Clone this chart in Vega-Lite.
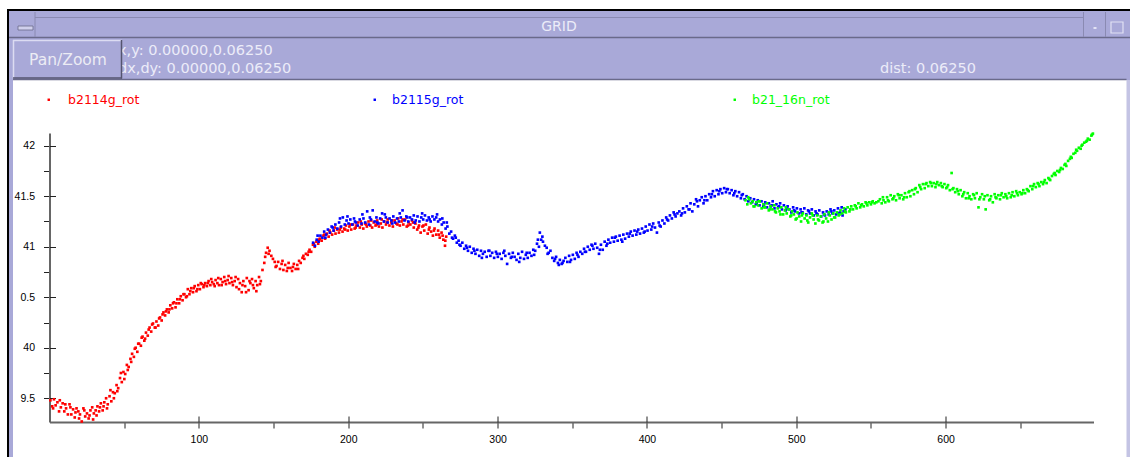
{
"$schema": "https://vega.github.io/schema/vega-lite/v6.json",
"width": 1044,
"height": 289,
"autosize": {"type": "none"},
"padding": {"left": 49.5, "top": 133, "right": 36.5, "bottom": 35},
"background": "white",
"config": {"view": {"stroke": null}, "font": "Liberation Sans", "legend": {"orient": "none", "direction": "horizontal", "title": null, "symbolType": "square", "symbolSize": 6, "symbolStrokeWidth": 0, "labelFont": "DejaVu Sans", "labelFontSize": 12.5, "labelLimit": 400, "padding": 0}},
"datasets": {
"red": [{"x":0.6,"y":39.48},{"x":1.8,"y":39.42},{"x":3.0,"y":39.49},{"x":4.1,"y":39.43},{"x":5.3,"y":39.46},{"x":6.4,"y":39.37},{"x":7.6,"y":39.41},{"x":8.8,"y":39.45},{"x":9.9,"y":39.37},{"x":11.1,"y":39.40},{"x":12.3,"y":39.34},{"x":13.4,"y":39.44},{"x":14.6,"y":39.34},{"x":15.8,"y":39.39},{"x":16.9,"y":39.31},{"x":18.1,"y":39.40},{"x":19.3,"y":39.37},{"x":20.4,"y":39.34},{"x":21.6,"y":39.27},{"x":22.7,"y":39.40},{"x":23.9,"y":39.32},{"x":25.1,"y":39.35},{"x":26.2,"y":39.30},{"x":27.4,"y":39.38},{"x":28.6,"y":39.41},{"x":29.7,"y":39.35},{"x":30.9,"y":39.38},{"x":32.1,"y":39.42},{"x":33.2,"y":39.37},{"x":34.4,"y":39.45},{"x":35.6,"y":39.38},{"x":36.7,"y":39.46},{"x":37.9,"y":39.50},{"x":39.0,"y":39.44},{"x":40.2,"y":39.52},{"x":41.4,"y":39.47},{"x":42.5,"y":39.56},{"x":43.7,"y":39.55},{"x":44.9,"y":39.63},{"x":46.0,"y":39.60},{"x":47.2,"y":39.70},{"x":48.4,"y":39.66},{"x":49.5,"y":39.76},{"x":50.7,"y":39.74},{"x":51.8,"y":39.83},{"x":53.0,"y":39.81},{"x":54.2,"y":39.89},{"x":55.3,"y":39.94},{"x":56.5,"y":39.91},{"x":57.7,"y":40.00},{"x":58.8,"y":39.96},{"x":60.0,"y":40.04},{"x":61.2,"y":40.02},{"x":62.3,"y":40.11},{"x":63.5,"y":40.07},{"x":64.6,"y":40.15},{"x":65.8,"y":40.12},{"x":67.0,"y":40.20},{"x":68.1,"y":40.16},{"x":69.3,"y":40.24},{"x":70.5,"y":40.20},{"x":71.6,"y":40.26},{"x":72.8,"y":40.22},{"x":74.0,"y":40.30},{"x":75.1,"y":40.27},{"x":76.3,"y":40.35},{"x":77.4,"y":40.32},{"x":78.6,"y":40.38},{"x":79.8,"y":40.35},{"x":80.9,"y":40.42},{"x":82.1,"y":40.39},{"x":83.3,"y":40.45},{"x":84.4,"y":40.40},{"x":85.6,"y":40.48},{"x":86.8,"y":40.44},{"x":87.9,"y":40.51},{"x":89.1,"y":40.47},{"x":90.3,"y":40.53},{"x":91.4,"y":40.50},{"x":92.6,"y":40.58},{"x":93.7,"y":40.53},{"x":94.9,"y":40.59},{"x":96.1,"y":40.55},{"x":97.2,"y":40.61},{"x":98.4,"y":40.56},{"x":99.6,"y":40.62},{"x":100.7,"y":40.58},{"x":101.9,"y":40.63},{"x":103.1,"y":40.60},{"x":104.2,"y":40.64},{"x":105.4,"y":40.61},{"x":106.5,"y":40.66},{"x":107.7,"y":40.62},{"x":108.9,"y":40.65},{"x":110.0,"y":40.63},{"x":111.2,"y":40.67},{"x":112.4,"y":40.64},{"x":113.5,"y":40.62},{"x":114.7,"y":40.68},{"x":115.9,"y":40.65},{"x":117.0,"y":40.70},{"x":118.2,"y":40.63},{"x":119.3,"y":40.67},{"x":120.5,"y":40.64},{"x":121.7,"y":40.69},{"x":122.8,"y":40.62},{"x":124.0,"y":40.66},{"x":125.2,"y":40.60},{"x":126.3,"y":40.68},{"x":127.5,"y":40.64},{"x":128.7,"y":40.55},{"x":129.8,"y":40.66},{"x":131.0,"y":40.61},{"x":132.1,"y":40.69},{"x":133.3,"y":40.57},{"x":134.5,"y":40.64},{"x":135.6,"y":40.68},{"x":136.8,"y":40.59},{"x":138.0,"y":40.66},{"x":139.1,"y":40.62},{"x":140.3,"y":40.70},{"x":141.5,"y":40.66},{"x":142.6,"y":40.77},{"x":143.8,"y":40.84},{"x":145.0,"y":40.94},{"x":146.1,"y":40.99},{"x":147.3,"y":40.96},{"x":148.5,"y":40.91},{"x":149.6,"y":40.88},{"x":150.8,"y":40.85},{"x":152.0,"y":40.81},{"x":153.1,"y":40.85},{"x":154.3,"y":40.78},{"x":155.4,"y":40.83},{"x":156.6,"y":40.77},{"x":157.8,"y":40.82},{"x":158.9,"y":40.76},{"x":160.1,"y":40.84},{"x":161.3,"y":40.79},{"x":162.4,"y":40.76},{"x":163.6,"y":40.83},{"x":164.8,"y":40.78},{"x":165.9,"y":40.82},{"x":167.1,"y":40.86},{"x":168.2,"y":40.84},{"x":169.4,"y":40.89},{"x":170.6,"y":40.88},{"x":171.7,"y":40.93},{"x":172.9,"y":40.92},{"x":174.1,"y":40.97},{"x":175.2,"y":40.95},{"x":176.4,"y":41.02},{"x":177.6,"y":41.00},{"x":178.7,"y":41.05},{"x":179.9,"y":41.03},{"x":181.0,"y":41.08},{"x":182.2,"y":41.06},{"x":183.4,"y":41.11},{"x":184.5,"y":41.08},{"x":185.7,"y":41.13},{"x":186.9,"y":41.10},{"x":188.0,"y":41.14},{"x":189.2,"y":41.12},{"x":190.4,"y":41.16},{"x":191.5,"y":41.13},{"x":192.7,"y":41.17},{"x":193.8,"y":41.14},{"x":195.0,"y":41.19},{"x":196.2,"y":41.15},{"x":197.3,"y":41.18},{"x":198.5,"y":41.21},{"x":199.7,"y":41.16},{"x":200.8,"y":41.20},{"x":202.0,"y":41.17},{"x":203.2,"y":41.22},{"x":204.3,"y":41.18},{"x":205.5,"y":41.21},{"x":206.6,"y":41.24},{"x":207.8,"y":41.19},{"x":209.0,"y":41.22},{"x":210.1,"y":41.18},{"x":211.3,"y":41.23},{"x":212.5,"y":41.20},{"x":213.6,"y":41.25},{"x":214.8,"y":41.21},{"x":216.0,"y":41.19},{"x":217.1,"y":41.24},{"x":218.3,"y":41.21},{"x":219.4,"y":41.26},{"x":220.6,"y":41.20},{"x":221.8,"y":41.23},{"x":222.9,"y":41.19},{"x":224.1,"y":41.25},{"x":225.3,"y":41.22},{"x":226.4,"y":41.27},{"x":227.6,"y":41.21},{"x":228.8,"y":41.24},{"x":229.9,"y":41.20},{"x":231.1,"y":41.26},{"x":232.2,"y":41.23},{"x":233.4,"y":41.28},{"x":234.6,"y":41.21},{"x":235.7,"y":41.25},{"x":236.9,"y":41.22},{"x":238.1,"y":41.27},{"x":239.2,"y":41.20},{"x":240.4,"y":41.24},{"x":241.6,"y":41.22},{"x":242.7,"y":41.26},{"x":243.9,"y":41.19},{"x":245.0,"y":41.23},{"x":246.2,"y":41.17},{"x":247.4,"y":41.21},{"x":248.5,"y":41.14},{"x":249.7,"y":41.20},{"x":250.9,"y":41.16},{"x":252.0,"y":41.22},{"x":253.2,"y":41.13},{"x":254.4,"y":41.19},{"x":255.5,"y":41.15},{"x":256.7,"y":41.11},{"x":257.8,"y":41.18},{"x":259.0,"y":41.12},{"x":260.2,"y":41.16},{"x":261.3,"y":41.09},{"x":262.5,"y":41.14},{"x":263.7,"y":41.07},{"x":264.8,"y":41.01},{"x":265.6,"y":41.10},
{"x":2.4,"y":39.40},{"x":6.9,"y":39.48},{"x":10.6,"y":39.44},{"x":14.0,"y":39.41},{"x":17.4,"y":39.36},{"x":19.8,"y":39.30},{"x":23.3,"y":39.38},{"x":26.8,"y":39.33},{"x":29.2,"y":39.29},{"x":31.5,"y":39.33},{"x":33.8,"y":39.41},{"x":36.2,"y":39.42},{"x":38.5,"y":39.40},{"x":40.8,"y":39.58},{"x":43.1,"y":39.50},{"x":45.4,"y":39.57},{"x":47.8,"y":39.75},{"x":50.1,"y":39.69},{"x":52.4,"y":39.78},{"x":54.7,"y":39.86},{"x":57.1,"y":39.99},{"x":59.4,"y":40.04},{"x":61.7,"y":40.10},{"x":64.0,"y":40.09},{"x":66.4,"y":40.18},{"x":68.7,"y":40.23},{"x":71.0,"y":40.20},{"x":73.4,"y":40.29},{"x":75.7,"y":40.33},{"x":78.0,"y":40.36},{"x":80.3,"y":40.38},{"x":82.7,"y":40.44},{"x":85.0,"y":40.44},{"x":87.3,"y":40.48},{"x":89.7,"y":40.53},{"x":92.0,"y":40.51},{"x":94.3,"y":40.56},{"x":96.6,"y":40.59},{"x":99.0,"y":40.58},{"x":101.3,"y":40.64},{"x":103.6,"y":40.62},{"x":106.0,"y":40.64},{"x":108.3,"y":40.68},{"x":110.6,"y":40.61},{"x":113.0,"y":40.69},{"x":115.3,"y":40.62},{"x":117.6,"y":40.66},{"x":119.9,"y":40.71},{"x":122.3,"y":40.65},{"x":124.6,"y":40.70},{"x":126.9,"y":40.58},{"x":129.2,"y":40.62},{"x":131.6,"y":40.55},{"x":133.9,"y":40.66},{"x":136.2,"y":40.62},{"x":138.5,"y":40.56},{"x":140.9,"y":40.63},{"x":144.4,"y":40.90},{"x":146.7,"y":40.93},{"x":151.4,"y":40.80},{"x":156.0,"y":40.86},{"x":159.5,"y":40.79},{"x":163.0,"y":40.80},{"x":166.5,"y":40.78},{"x":170.0,"y":40.91},{"x":173.5,"y":40.95},{"x":177.0,"y":41.03},{"x":180.5,"y":41.07},{"x":184.0,"y":41.12},{"x":187.5,"y":41.16},{"x":191.0,"y":41.19},{"x":194.4,"y":41.17},{"x":198.0,"y":41.17},{"x":201.4,"y":41.22},{"x":205.0,"y":41.19},{"x":208.4,"y":41.25},{"x":212.0,"y":41.22},{"x":215.4,"y":41.26},{"x":219.0,"y":41.22},{"x":222.4,"y":41.27},{"x":226.0,"y":41.24},{"x":229.4,"y":41.26},{"x":233.0,"y":41.22},{"x":236.4,"y":41.27},{"x":240.0,"y":41.21},{"x":243.4,"y":41.24},{"x":247.0,"y":41.19},{"x":250.4,"y":41.21},{"x":254.0,"y":41.17},{"x":257.4,"y":41.16},{"x":260.8,"y":41.12},{"x":263.2,"y":41.11},{"x":265.0,"y":41.06}],
"blue": [{"x":176.5,"y":41.04},{"x":177.7,"y":41.01},{"x":178.9,"y":41.07},{"x":180.2,"y":41.05},{"x":181.4,"y":41.11},{"x":182.7,"y":41.09},{"x":183.9,"y":41.15},{"x":185.2,"y":41.12},{"x":186.4,"y":41.17},{"x":187.7,"y":41.14},{"x":188.9,"y":41.20},{"x":190.2,"y":41.16},{"x":191.4,"y":41.22},{"x":192.7,"y":41.18},{"x":193.9,"y":41.24},{"x":195.2,"y":41.20},{"x":196.4,"y":41.29},{"x":197.7,"y":41.22},{"x":198.9,"y":41.26},{"x":200.2,"y":41.23},{"x":201.4,"y":41.27},{"x":202.7,"y":41.22},{"x":203.9,"y":41.28},{"x":205.2,"y":41.24},{"x":206.4,"y":41.21},{"x":207.7,"y":41.27},{"x":208.9,"y":41.23},{"x":210.2,"y":41.28},{"x":211.4,"y":41.24},{"x":212.7,"y":41.35},{"x":213.9,"y":41.22},{"x":215.2,"y":41.27},{"x":216.4,"y":41.36},{"x":217.7,"y":41.25},{"x":218.9,"y":41.29},{"x":220.2,"y":41.23},{"x":221.4,"y":41.28},{"x":222.7,"y":41.33},{"x":223.9,"y":41.25},{"x":225.2,"y":41.29},{"x":226.4,"y":41.24},{"x":227.7,"y":41.28},{"x":228.9,"y":41.26},{"x":230.2,"y":41.30},{"x":231.4,"y":41.24},{"x":232.7,"y":41.28},{"x":233.9,"y":41.25},{"x":235.2,"y":41.29},{"x":236.4,"y":41.36},{"x":237.7,"y":41.26},{"x":238.9,"y":41.30},{"x":240.2,"y":41.25},{"x":241.4,"y":41.29},{"x":242.7,"y":41.27},{"x":243.9,"y":41.31},{"x":245.2,"y":41.26},{"x":246.4,"y":41.30},{"x":247.7,"y":41.25},{"x":248.9,"y":41.29},{"x":250.2,"y":41.27},{"x":251.4,"y":41.31},{"x":252.7,"y":41.26},{"x":253.9,"y":41.29},{"x":255.2,"y":41.25},{"x":256.4,"y":41.30},{"x":257.7,"y":41.27},{"x":258.9,"y":41.29},{"x":260.2,"y":41.25},{"x":261.4,"y":41.27},{"x":262.7,"y":41.22},{"x":263.9,"y":41.24},{"x":265.2,"y":41.18},{"x":266.4,"y":41.20},{"x":267.7,"y":41.13},{"x":268.9,"y":41.15},{"x":270.2,"y":41.08},{"x":271.4,"y":41.11},{"x":272.7,"y":41.04},{"x":273.9,"y":41.06},{"x":275.2,"y":41.01},{"x":276.4,"y":41.04},{"x":277.7,"y":40.98},{"x":278.9,"y":41.01},{"x":280.2,"y":40.96},{"x":281.4,"y":41.00},{"x":282.7,"y":40.94},{"x":283.9,"y":40.98},{"x":285.2,"y":40.93},{"x":286.4,"y":40.97},{"x":287.7,"y":40.91},{"x":288.9,"y":40.96},{"x":290.2,"y":40.93},{"x":291.4,"y":40.95},{"x":292.7,"y":40.90},{"x":293.9,"y":40.96},{"x":295.2,"y":40.91},{"x":296.4,"y":40.94},{"x":297.7,"y":40.89},{"x":298.9,"y":40.95},{"x":300.2,"y":40.90},{"x":301.4,"y":40.93},{"x":302.7,"y":40.88},{"x":303.9,"y":40.94},{"x":305.2,"y":40.91},{"x":306.4,"y":40.83},{"x":307.7,"y":40.93},{"x":308.9,"y":40.89},{"x":310.2,"y":40.94},{"x":311.4,"y":40.90},{"x":312.7,"y":40.87},{"x":313.9,"y":40.93},{"x":315.2,"y":40.89},{"x":316.4,"y":40.95},{"x":317.7,"y":40.88},{"x":318.9,"y":40.92},{"x":320.2,"y":40.89},{"x":321.4,"y":40.94},{"x":322.7,"y":40.91},{"x":323.9,"y":40.97},{"x":325.2,"y":40.96},{"x":326.4,"y":41.03},{"x":327.7,"y":41.00},{"x":328.3,"y":41.14},{"x":329.2,"y":41.07},{"x":330.4,"y":41.05},{"x":331.7,"y":41.01},{"x":332.9,"y":40.99},{"x":334.2,"y":40.94},{"x":335.4,"y":40.96},{"x":336.7,"y":40.89},{"x":337.9,"y":40.86},{"x":339.2,"y":40.90},{"x":340.4,"y":40.84},{"x":341.7,"y":40.87},{"x":342.9,"y":40.83},{"x":344.2,"y":40.86},{"x":345.4,"y":40.89},{"x":346.7,"y":40.85},{"x":347.9,"y":40.91},{"x":349.2,"y":40.87},{"x":350.4,"y":40.92},{"x":351.7,"y":40.88},{"x":352.9,"y":40.94},{"x":354.2,"y":40.90},{"x":355.4,"y":40.95},{"x":356.7,"y":40.93},{"x":357.9,"y":40.98},{"x":359.2,"y":40.95},{"x":360.4,"y":41.00},{"x":361.7,"y":40.97},{"x":362.9,"y":41.02},{"x":364.2,"y":40.98},{"x":365.4,"y":41.03},{"x":366.7,"y":40.99},{"x":367.9,"y":40.93},{"x":369.2,"y":41.02},{"x":370.4,"y":40.97},{"x":371.7,"y":41.05},{"x":372.9,"y":41.01},{"x":374.2,"y":41.07},{"x":375.4,"y":41.04},{"x":376.7,"y":41.09},{"x":377.9,"y":41.05},{"x":379.2,"y":41.10},{"x":380.4,"y":41.06},{"x":381.7,"y":41.11},{"x":382.9,"y":41.07},{"x":384.2,"y":41.12},{"x":385.4,"y":41.08},{"x":386.7,"y":41.13},{"x":387.9,"y":41.10},{"x":389.2,"y":41.15},{"x":390.4,"y":41.11},{"x":391.7,"y":41.16},{"x":392.9,"y":41.12},{"x":394.2,"y":41.17},{"x":395.4,"y":41.13},{"x":396.7,"y":41.18},{"x":397.9,"y":41.14},{"x":399.2,"y":41.20},{"x":400.4,"y":41.16},{"x":401.7,"y":41.22},{"x":402.9,"y":41.17},{"x":404.2,"y":41.23},{"x":405.4,"y":41.19},{"x":406.7,"y":41.14},{"x":407.9,"y":41.24},{"x":409.2,"y":41.20},{"x":410.4,"y":41.26},{"x":411.7,"y":41.23},{"x":412.9,"y":41.29},{"x":414.2,"y":41.26},{"x":415.4,"y":41.31},{"x":416.7,"y":41.28},{"x":417.9,"y":41.34},{"x":419.2,"y":41.30},{"x":420.4,"y":41.33},{"x":421.7,"y":41.35},{"x":422.9,"y":41.31},{"x":424.2,"y":41.38},{"x":425.4,"y":41.34},{"x":426.7,"y":41.40},{"x":427.9,"y":41.37},{"x":429.2,"y":41.43},{"x":430.4,"y":41.35},{"x":431.7,"y":41.42},{"x":432.9,"y":41.47},{"x":434.2,"y":41.40},{"x":435.4,"y":41.46},{"x":436.7,"y":41.49},{"x":437.9,"y":41.43},{"x":439.2,"y":41.50},{"x":440.4,"y":41.46},{"x":441.7,"y":41.52},{"x":442.9,"y":41.49},{"x":444.2,"y":41.55},{"x":445.4,"y":41.50},{"x":446.7,"y":41.56},{"x":447.9,"y":41.52},{"x":449.2,"y":41.57},{"x":450.4,"y":41.53},{"x":451.7,"y":41.58},{"x":452.9,"y":41.54},{"x":454.2,"y":41.57},{"x":455.4,"y":41.53},{"x":456.7,"y":41.56},{"x":457.9,"y":41.51},{"x":459.2,"y":41.55},{"x":460.4,"y":41.50},{"x":461.7,"y":41.54},{"x":462.9,"y":41.48},{"x":464.2,"y":41.52},{"x":465.4,"y":41.47},{"x":466.7,"y":41.50},{"x":467.9,"y":41.45},{"x":469.2,"y":41.48},{"x":470.4,"y":41.44},{"x":471.7,"y":41.47},{"x":472.9,"y":41.42},{"x":474.2,"y":41.46},{"x":475.4,"y":41.41},{"x":476.7,"y":41.45},{"x":477.9,"y":41.40},{"x":479.2,"y":41.44},{"x":480.4,"y":41.39},{"x":481.7,"y":41.43},{"x":482.9,"y":41.40},{"x":484.2,"y":41.45},{"x":485.4,"y":41.38},{"x":486.7,"y":41.42},{"x":487.9,"y":41.39},{"x":489.2,"y":41.43},{"x":490.4,"y":41.37},{"x":491.7,"y":41.41},{"x":492.9,"y":41.36},{"x":494.2,"y":41.40},{"x":495.4,"y":41.37},{"x":496.7,"y":41.34},{"x":497.9,"y":41.39},{"x":499.2,"y":41.35},{"x":500.4,"y":41.38},{"x":501.7,"y":41.33},{"x":502.9,"y":41.37},{"x":504.2,"y":41.34},{"x":505.4,"y":41.38},{"x":506.7,"y":41.32},{"x":507.9,"y":41.36},{"x":509.2,"y":41.33},{"x":510.4,"y":41.37},{"x":511.7,"y":41.31},{"x":512.9,"y":41.35},{"x":514.2,"y":41.32},{"x":515.4,"y":41.36},{"x":516.7,"y":41.30},{"x":517.9,"y":41.34},{"x":519.2,"y":41.31},{"x":520.4,"y":41.35},{"x":521.7,"y":41.32},{"x":522.9,"y":41.37},{"x":524.2,"y":41.33},{"x":525.4,"y":41.36},{"x":526.7,"y":41.32},{"x":527.9,"y":41.38},{"x":529.2,"y":41.34},{"x":530.4,"y":41.39},{"x":531.7,"y":41.35},{"x":532.9,"y":41.37},
{"x":179.5,"y":41.11},{"x":184.7,"y":41.09},{"x":189.6,"y":41.19},{"x":194.5,"y":41.28},{"x":199.5,"y":41.30},{"x":204.5,"y":41.25},{"x":209.5,"y":41.32},{"x":214.5,"y":41.29},{"x":219.5,"y":41.24},{"x":224.5,"y":41.32},{"x":229.5,"y":41.23},{"x":234.5,"y":41.33},{"x":239.5,"y":41.29},{"x":244.5,"y":41.24},{"x":249.5,"y":41.33},{"x":254.5,"y":41.27},{"x":259.5,"y":41.32},{"x":263.0,"y":41.28},{"x":266.0,"y":41.24},{"x":269.5,"y":41.09},{"x":272.0,"y":41.09},{"x":274.5,"y":41.02},{"x":279.5,"y":40.99},{"x":284.5,"y":40.96},{"x":289.5,"y":40.89},{"x":294.5,"y":40.96},{"x":299.5,"y":40.93},{"x":304.5,"y":40.96},{"x":309.5,"y":40.90},{"x":314.5,"y":40.85},{"x":319.5,"y":40.94},{"x":324.5,"y":40.92},{"x":327.0,"y":41.07},{"x":330.0,"y":41.10},{"x":333.5,"y":40.93},{"x":338.5,"y":40.88},{"x":341.0,"y":40.82},{"x":343.5,"y":40.84},{"x":348.5,"y":40.85},{"x":353.5,"y":40.92},{"x":358.5,"y":40.95},{"x":363.5,"y":41.01},{"x":368.5,"y":40.97},{"x":373.5,"y":41.03},{"x":378.5,"y":41.09},{"x":383.5,"y":41.05},{"x":388.5,"y":41.13},{"x":393.5,"y":41.15},{"x":398.5,"y":41.15},{"x":403.5,"y":41.20},{"x":408.5,"y":41.21},{"x":413.5,"y":41.27},{"x":418.5,"y":41.32},{"x":423.5,"y":41.33},{"x":428.5,"y":41.37},{"x":433.5,"y":41.45},{"x":438.5,"y":41.46},{"x":443.5,"y":41.52},{"x":448.5,"y":41.55},{"x":453.5,"y":41.57},{"x":458.5,"y":41.53},{"x":463.5,"y":41.51},{"x":468.5,"y":41.47},{"x":473.5,"y":41.43},{"x":478.5,"y":41.42},{"x":483.5,"y":41.41},{"x":488.5,"y":41.40},{"x":493.5,"y":41.38},{"x":498.5,"y":41.36},{"x":503.5,"y":41.34},{"x":508.5,"y":41.35},{"x":513.5,"y":41.33},{"x":518.5,"y":41.32},{"x":523.5,"y":41.35},{"x":528.5,"y":41.33},{"x":531.0,"y":41.31}],
"green": [{"x":466.0,"y":41.46},{"x":467.2,"y":41.42},{"x":468.4,"y":41.47},{"x":469.6,"y":41.43},{"x":470.8,"y":41.45},{"x":472.0,"y":41.40},{"x":473.2,"y":41.44},{"x":474.4,"y":41.41},{"x":475.6,"y":41.45},{"x":476.8,"y":41.38},{"x":478.0,"y":41.42},{"x":479.2,"y":41.39},{"x":480.4,"y":41.43},{"x":481.6,"y":41.36},{"x":482.8,"y":41.40},{"x":484.0,"y":41.37},{"x":485.2,"y":41.41},{"x":486.4,"y":41.34},{"x":487.6,"y":41.38},{"x":488.8,"y":41.35},{"x":490.0,"y":41.39},{"x":491.2,"y":41.32},{"x":492.4,"y":41.36},{"x":493.6,"y":41.33},{"x":494.8,"y":41.37},{"x":496.0,"y":41.30},{"x":497.2,"y":41.35},{"x":498.4,"y":41.32},{"x":499.6,"y":41.27},{"x":500.8,"y":41.34},{"x":502.0,"y":41.30},{"x":503.2,"y":41.25},{"x":504.4,"y":41.33},{"x":505.6,"y":41.28},{"x":506.8,"y":41.31},{"x":508.0,"y":41.24},{"x":509.2,"y":41.29},{"x":510.4,"y":41.33},{"x":511.6,"y":41.27},{"x":512.8,"y":41.23},{"x":514.0,"y":41.31},{"x":515.2,"y":41.26},{"x":516.4,"y":41.30},{"x":517.6,"y":41.24},{"x":518.8,"y":41.32},{"x":520.0,"y":41.28},{"x":521.2,"y":41.25},{"x":522.4,"y":41.31},{"x":523.6,"y":41.27},{"x":524.8,"y":41.33},{"x":526.0,"y":41.29},{"x":527.2,"y":41.34},{"x":528.4,"y":41.31},{"x":529.6,"y":41.36},{"x":530.8,"y":41.33},{"x":532.0,"y":41.38},{"x":533.2,"y":41.34},{"x":534.4,"y":41.39},{"x":535.6,"y":41.35},{"x":536.8,"y":41.40},{"x":538.0,"y":41.37},{"x":539.2,"y":41.41},{"x":540.4,"y":41.38},{"x":541.6,"y":41.43},{"x":542.8,"y":41.39},{"x":544.0,"y":41.42},{"x":545.2,"y":41.40},{"x":546.4,"y":41.44},{"x":547.6,"y":41.41},{"x":548.8,"y":41.44},{"x":550.0,"y":41.42},{"x":551.2,"y":41.45},{"x":552.4,"y":41.43},{"x":553.6,"y":41.44},{"x":556.0,"y":41.47},{"x":557.2,"y":41.43},{"x":558.4,"y":41.46},{"x":559.6,"y":41.44},{"x":560.8,"y":41.49},{"x":562.0,"y":41.45},{"x":563.2,"y":41.51},{"x":564.4,"y":41.47},{"x":565.6,"y":41.50},{"x":566.8,"y":41.46},{"x":568.0,"y":41.52},{"x":569.2,"y":41.48},{"x":570.4,"y":41.51},{"x":571.6,"y":41.47},{"x":572.8,"y":41.53},{"x":574.0,"y":41.49},{"x":575.2,"y":41.54},{"x":576.4,"y":41.50},{"x":577.6,"y":41.56},{"x":578.8,"y":41.52},{"x":580.0,"y":41.58},{"x":581.2,"y":41.54},{"x":582.4,"y":41.61},{"x":583.6,"y":41.57},{"x":584.8,"y":41.62},{"x":586.0,"y":41.58},{"x":587.2,"y":41.63},{"x":588.4,"y":41.60},{"x":589.6,"y":41.64},{"x":590.8,"y":41.60},{"x":592.0,"y":41.63},{"x":593.2,"y":41.59},{"x":594.4,"y":41.64},{"x":595.6,"y":41.61},{"x":596.8,"y":41.63},{"x":598.0,"y":41.59},{"x":599.2,"y":41.62},{"x":600.4,"y":41.58},{"x":601.6,"y":41.61},{"x":602.8,"y":41.56},{"x":604.0,"y":41.73},{"x":605.2,"y":41.58},{"x":606.4,"y":41.54},{"x":607.6,"y":41.57},{"x":608.8,"y":41.52},{"x":610.0,"y":41.56},{"x":611.2,"y":41.50},{"x":612.4,"y":41.54},{"x":613.6,"y":41.48},{"x":614.8,"y":41.53},{"x":616.0,"y":41.50},{"x":617.2,"y":41.47},{"x":618.4,"y":41.52},{"x":619.6,"y":41.48},{"x":620.8,"y":41.53},{"x":622.0,"y":41.39},{"x":623.2,"y":41.49},{"x":624.4,"y":41.52},{"x":625.6,"y":41.47},{"x":626.8,"y":41.37},{"x":628.0,"y":41.51},{"x":629.2,"y":41.46},{"x":630.4,"y":41.50},{"x":631.6,"y":41.44},{"x":632.8,"y":41.52},{"x":634.0,"y":41.48},{"x":635.2,"y":41.51},{"x":636.4,"y":41.47},{"x":637.6,"y":41.53},{"x":638.8,"y":41.49},{"x":640.0,"y":41.52},{"x":641.2,"y":41.48},{"x":642.4,"y":41.53},{"x":643.6,"y":41.49},{"x":644.8,"y":41.54},{"x":646.0,"y":41.50},{"x":647.2,"y":41.55},{"x":648.4,"y":41.51},{"x":649.6,"y":41.54},{"x":650.8,"y":41.52},{"x":652.0,"y":41.56},{"x":653.2,"y":41.53},{"x":654.4,"y":41.57},{"x":655.6,"y":41.55},{"x":656.8,"y":41.60},{"x":658.0,"y":41.57},{"x":659.2,"y":41.62},{"x":660.4,"y":41.59},{"x":661.6,"y":41.63},{"x":662.8,"y":41.60},{"x":664.0,"y":41.64},{"x":665.2,"y":41.62},{"x":666.4,"y":41.66},{"x":667.6,"y":41.63},{"x":668.8,"y":41.68},{"x":670.0,"y":41.66},{"x":671.2,"y":41.70},{"x":672.4,"y":41.72},{"x":673.6,"y":41.71},{"x":674.8,"y":41.75},{"x":676.0,"y":41.74},{"x":677.2,"y":41.78},{"x":678.4,"y":41.77},{"x":679.6,"y":41.81},{"x":680.8,"y":41.80},{"x":682.0,"y":41.85},{"x":683.2,"y":41.87},{"x":684.4,"y":41.88},{"x":685.6,"y":41.92},{"x":686.8,"y":41.93},{"x":688.0,"y":41.95},{"x":689.2,"y":41.98},{"x":690.4,"y":41.97},{"x":691.6,"y":42.01},{"x":692.8,"y":42.03},{"x":694.0,"y":42.04},{"x":695.2,"y":42.07},{"x":696.4,"y":42.06},{"x":697.6,"y":42.10},{"x":698.6,"y":42.12},
{"x":467.8,"y":41.49},{"x":471.4,"y":41.40},{"x":474.9,"y":41.45},{"x":478.6,"y":41.39},{"x":482.2,"y":41.37},{"x":485.8,"y":41.35},{"x":489.4,"y":41.32},{"x":493.0,"y":41.39},{"x":496.6,"y":41.31},{"x":500.2,"y":41.28},{"x":503.8,"y":41.31},{"x":507.4,"y":41.26},{"x":511.0,"y":41.31},{"x":514.6,"y":41.27},{"x":518.2,"y":41.25},{"x":521.8,"y":41.34},{"x":525.4,"y":41.29},{"x":529.0,"y":41.32},{"x":532.6,"y":41.35},{"x":536.2,"y":41.37},{"x":539.8,"y":41.40},{"x":543.4,"y":41.41},{"x":547.0,"y":41.43},{"x":550.6,"y":41.44},{"x":555.0,"y":41.45},{"x":558.0,"y":41.49},{"x":561.4,"y":41.46},{"x":565.0,"y":41.48},{"x":568.6,"y":41.51},{"x":572.2,"y":41.49},{"x":575.8,"y":41.55},{"x":579.4,"y":41.57},{"x":583.0,"y":41.59},{"x":586.6,"y":41.62},{"x":590.2,"y":41.63},{"x":593.8,"y":41.62},{"x":597.4,"y":41.60},{"x":601.0,"y":41.59},{"x":604.6,"y":41.57},{"x":608.2,"y":41.55},{"x":611.8,"y":41.52},{"x":615.4,"y":41.48},{"x":619.0,"y":41.51},{"x":622.6,"y":41.47},{"x":626.2,"y":41.50},{"x":629.8,"y":41.47},{"x":633.4,"y":41.49},{"x":637.0,"y":41.51},{"x":640.6,"y":41.50},{"x":644.2,"y":41.51},{"x":647.8,"y":41.53},{"x":651.4,"y":41.53},{"x":655.0,"y":41.56},{"x":658.6,"y":41.60},{"x":662.2,"y":41.62},{"x":665.8,"y":41.64},{"x":669.4,"y":41.67},{"x":673.0,"y":41.73},{"x":676.6,"y":41.76},{"x":680.2,"y":41.82},{"x":683.8,"y":41.89},{"x":687.4,"y":41.96},{"x":691.0,"y":42.00},{"x":694.6,"y":42.05},{"x":698.0,"y":42.11}]
},
"layer": [
{"data": {"values": [{}]}, "mark": {"type": "rect", "fill": "#a9a9d8"}, "encoding": {"x": {"value": -40.5}, "x2": {"value": 1080.5}, "y": {"value": -122}, "y2": {"value": -53}}},
{"data": {"values": [{}]}, "mark": {"type": "rect", "fill": "#a9a9d8"}, "encoding": {"x": {"value": -40.5}, "x2": {"value": -36.5}, "y": {"value": -53}, "y2": {"value": 324}}},
{"data": {"values": [{}]}, "mark": {"type": "rect", "fill": "#c4c4e4"}, "encoding": {"x": {"value": 1077}, "x2": {"value": 1080.5}, "y": {"value": -53}, "y2": {"value": 324}}},
{"data": {"values": [{}]}, "mark": {"type": "rect", "fill": "#000000"}, "encoding": {"x": {"value": -42.5}, "x2": {"value": 1080.5}, "y": {"value": -124}, "y2": {"value": -122}}},
{"data": {"values": [{}]}, "mark": {"type": "rect", "fill": "#000000"}, "encoding": {"x": {"value": -42.5}, "x2": {"value": -40.5}, "y": {"value": -124}, "y2": {"value": 324}}},
{"data": {"values": [{}]}, "mark": {"type": "rule", "stroke": "#6a6a8a", "strokeWidth": 1.5}, "encoding": {"x": {"value": -40.5}, "x2": {"value": 1080.5}, "y": {"value": -95.5}}},
{"data": {"values": [{}]}, "mark": {"type": "rule", "stroke": "#8a8ab2", "strokeWidth": 1}, "encoding": {"x": {"value": -14.5}, "x2": {"value": 1033.5}, "y": {"value": -115.5}}},
{"data": {"values": [{}]}, "mark": {"type": "rule", "stroke": "#8a8ab2", "strokeWidth": 1}, "encoding": {"x": {"value": -14.5}, "y": {"value": -121}, "y2": {"value": -96}}},
{"data": {"values": [{}]}, "mark": {"type": "rule", "stroke": "#8a8ab2", "strokeWidth": 1}, "encoding": {"x": {"value": 1034}, "y": {"value": -121}, "y2": {"value": -96}}},
{"data": {"values": [{}]}, "mark": {"type": "rule", "stroke": "#8a8ab2", "strokeWidth": 1}, "encoding": {"x": {"value": 1056}, "y": {"value": -121}, "y2": {"value": -96}}},
{"data": {"values": [{}]}, "mark": {"type": "rect", "fill": "#d0d0ec", "stroke": "#6a6a8a", "strokeWidth": 0.8}, "encoding": {"x": {"value": -31.5}, "x2": {"value": -16.5}, "y": {"value": -107}, "y2": {"value": -103}}},
{"data": {"values": [{}]}, "mark": {"type": "rect", "fill": null, "stroke": "#e2e2f4", "strokeWidth": 1.2}, "encoding": {"x": {"value": 1061.5}, "x2": {"value": 1073.5}, "y": {"value": -111}, "y2": {"value": -100}}},
{"data": {"values": [{}]}, "mark": {"type": "rect", "fill": "#e2e2f4"}, "encoding": {"x": {"value": 1044}, "x2": {"value": 1047}, "y": {"value": -106}, "y2": {"value": -104}}},
{"data": {"values": [{}]}, "mark": {"type": "rule", "stroke": "#6a6a8a", "strokeWidth": 1.5}, "encoding": {"x": {"value": -36.5}, "x2": {"value": 1077}, "y": {"value": -53.5}}},
{"data": {"values": [{}]}, "mark": {"type": "text", "text": "GRID", "font": "DejaVu Sans", "fontSize": 14, "fill": "#ececf8", "align": "center", "baseline": "alphabetic"}, "encoding": {"x": {"value": 509.5}, "y": {"value": -102}}},
{"data": {"values": [{}]}, "mark": {"type": "text", "text": "x,y: 0.00000,0.06250", "font": "DejaVu Sans", "fontSize": 14.5, "fill": "#ececf8", "align": "left", "baseline": "alphabetic"}, "encoding": {"x": {"value": 68.5}, "y": {"value": -78.5}}},
{"data": {"values": [{}]}, "mark": {"type": "text", "text": "dx,dy: 0.00000,0.06250", "font": "DejaVu Sans", "fontSize": 14.5, "fill": "#ececf8", "align": "left", "baseline": "alphabetic"}, "encoding": {"x": {"value": 68.5}, "y": {"value": -59.7}}},
{"data": {"values": [{}]}, "mark": {"type": "text", "text": "dist: 0.06250", "font": "DejaVu Sans", "fontSize": 14.5, "fill": "#ececf8", "align": "left", "baseline": "alphabetic"}, "encoding": {"x": {"value": 830.5}, "y": {"value": -59.7}}},
{"data": {"values": [{}]}, "mark": {"type": "rect", "fill": "#a9a9d8"}, "encoding": {"x": {"value": -36.5}, "x2": {"value": 72.5}, "y": {"value": -93}, "y2": {"value": -54.5}}},
{"data": {"values": [{}]}, "mark": {"type": "rule", "stroke": "#dcdcf2", "strokeWidth": 1.5}, "encoding": {"x": {"value": -36.5}, "x2": {"value": 72.5}, "y": {"value": -92.5}}},
{"data": {"values": [{}]}, "mark": {"type": "rule", "stroke": "#dcdcf2", "strokeWidth": 1.5}, "encoding": {"x": {"value": -36}, "y": {"value": -93}, "y2": {"value": -54.5}}},
{"data": {"values": [{}]}, "mark": {"type": "rule", "stroke": "#55556f", "strokeWidth": 1.5}, "encoding": {"x": {"value": -36.5}, "x2": {"value": 72.5}, "y": {"value": -55}}},
{"data": {"values": [{}]}, "mark": {"type": "rule", "stroke": "#55556f", "strokeWidth": 1.5}, "encoding": {"x": {"value": 72}, "y": {"value": -93}, "y2": {"value": -54.5}}},
{"data": {"values": [{}]}, "mark": {"type": "text", "text": "Pan/Zoom", "font": "DejaVu Sans", "fontSize": 15.5, "fill": "#ececf4", "align": "center", "baseline": "alphabetic"}, "encoding": {"x": {"value": 18.5}, "y": {"value": -68}}},
{"data": {"name": "red"}, "mark": {"type": "square", "size": 7, "opacity": 1},
 "encoding": {
  "x": {"field": "x", "type": "quantitative", "scale": {"domain": [0, 699], "nice": false, "zero": false},
        "axis": {"orient": "bottom", "values": [50,100,150,200,250,300,350,400,450,500,550,600,650], "tickSize": 6, "tickColor": "#222222", "tickWidth": 1, "domainColor": "#666666", "domainWidth": 2, "labelExpr": "datum.value % 100 == 0 ? datum.label : ''", "format": "d", "labelFont": "Liberation Sans", "labelFontSize": 10.5, "labelColor": "#000000", "labelPadding": 6, "labelFlush": false, "labelOverlap": false, "grid": false, "title": null}},
  "y": {"field": "y", "type": "quantitative", "scale": {"domain": [39.265, 42.126], "nice": false, "zero": false},
        "axis": {"orient": "left", "values": [39.5,39.75,40,40.25,40.5,40.75,41,41.25,41.5,41.75,42], "tickSize": 6, "tickColor": "#222222", "tickWidth": 1, "domainColor": "#666666", "domainWidth": 2, "labelExpr": "datum.value == 42 ? '42' : datum.value == 41.5 ? '41.5' : datum.value == 41 ? '41' : datum.value == 40.5 ? '0.5' : datum.value == 40 ? '40' : datum.value == 39.5 ? '9.5' : ''", "labelFont": "Liberation Sans", "labelFontSize": 10.5, "labelColor": "#000000", "labelPadding": 9, "labelFlush": false, "labelOverlap": false, "grid": false, "title": null}},
  "color": {"datum": "b2114g_rot", "type": "nominal", "scale": {"domain": ["b2114g_rot"], "range": ["#ff0000"]},
            "legend": {"legendX": -7, "legendY": -39.5, "labelOffset": 13, "labelColor": "#ff0000"}}
 }},
{"data": {"name": "blue"}, "mark": {"type": "square", "size": 7, "opacity": 1},
 "encoding": {
  "x": {"field": "x", "type": "quantitative", "axis": {"orient": "bottom", "values": [100,200,300,400,500,600], "tickSize": -6, "tickColor": "#222222", "tickWidth": 1, "labels": false, "domain": false, "grid": false, "title": null}},
  "y": {"field": "y", "type": "quantitative", "axis": {"orient": "left", "values": [39.5,40,40.5,41,41.5,42], "tickSize": -6, "tickColor": "#222222", "tickWidth": 1, "labels": false, "domain": false, "grid": false, "title": null}},
  "color": {"datum": "b2115g_rot", "type": "nominal", "scale": {"domain": ["b2115g_rot"], "range": ["#0000ff"]},
            "legend": {"legendX": 319, "legendY": -39.5, "labelOffset": 11, "labelColor": "#0000ff"}}
 }},
{"data": {"name": "green"}, "mark": {"type": "square", "size": 7, "opacity": 1},
 "encoding": {
  "x": {"field": "x", "type": "quantitative", "axis": null},
  "y": {"field": "y", "type": "quantitative", "axis": null},
  "color": {"datum": "b21_16n_rot", "type": "nominal", "scale": {"domain": ["b21_16n_rot"], "range": ["#00ff00"]},
            "legend": {"legendX": 679, "legendY": -39.5, "labelOffset": 11, "labelColor": "#00ff00"}}
 }}
],
"resolve": {"axis": {"x": "independent", "y": "independent"}, "scale": {"color": "independent"}, "legend": {"color": "independent"}}
}
